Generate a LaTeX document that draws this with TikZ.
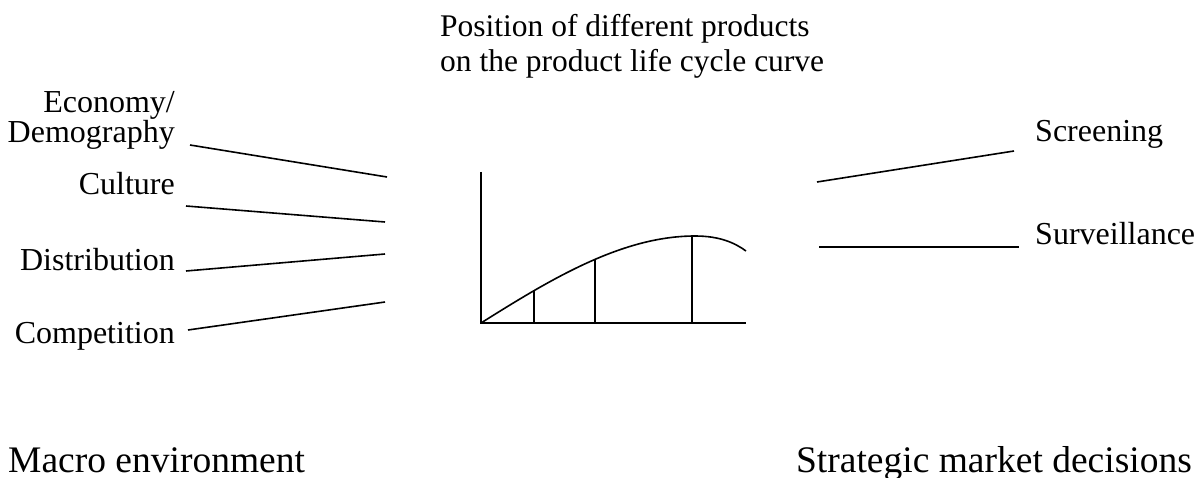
\documentclass[tikz,border=0pt]{standalone}
\usepackage{fontspec}
\setmainfont{Liberation Serif}
\usetikzlibrary{positioning}

\begin{document}
\begin{tikzpicture}[
  x=1pt, y=-1pt,
  lbl/.style={font=\fontsize{32}{30}\selectfont, inner sep=0pt},
  head/.style={font=\fontsize{37.5}{40}\selectfont, inner sep=0pt},
  link/.style={line width=1.6pt},
  axis/.style={line width=2.2pt},
]
  \useasboundingbox (0,0) rectangle (1204,478);

  % Title over the chart
  \node[lbl, anchor=base west, align=left,
        font=\fontsize{31.5}{35}\selectfont] (title) at (440,72)
        {Position of different products\\on the product life cycle curve};

  % Macro environment factors
  \node[lbl, anchor=base east, align=right] (eco) at (175,143) {Economy/\\Demography};
  \node[lbl, anchor=base east] (cul) at (175,195) {Culture};
  \node[lbl, anchor=base east] (dis) at (175,270) {Distribution};
  \node[lbl, anchor=base east] (com) at (175,343) {Competition};

  % Strategic decisions
  \node[lbl, anchor=base west] (scr) at (1035,142) {Screening};
  \node[lbl, anchor=base west] (sur) at (1035,245) {Surveillance};

  % Bottom headings
  \node[head, anchor=base west] (macro) at (8,472) {Macro environment};
  \node[head, anchor=base east] (strat) at (1192,472) {Strategic market decisions};

  % Line ends next to the chart
  \coordinate (e0) at (190,145);  \coordinate (e1) at (387,177);
  \coordinate (c0) at (186,206);  \coordinate (c1) at (385,222);
  \coordinate (d0) at (186,271);  \coordinate (d1) at (385,254);
  \coordinate (k0) at (188,330);  \coordinate (k1) at (385,302);
  \coordinate (s0) at (817,182);  \coordinate (s1) at (1014,151);
  \coordinate (v0) at (819,247);  \coordinate (v1) at (1019,247);

  \draw[link] (e0) -- (e1);
  \draw[link] (c0) -- (c1);
  \draw[link] (d0) -- (d1);
  \draw[link] (k0) -- (k1);
  \draw[link] (s0) -- (s1);
  \draw[link] (v0) -- (v1);

  % Life cycle chart
  \coordinate (o) at (481,323);
  \draw[axis] (481,172) -- (o) -- (746,323);
  \draw[link] (o) .. controls (551,279) and (622,236) .. (695,236)
                  .. controls (720,236) and (735,243) .. (746,251);
  \draw[link] (534,290) -- (534,323);
  \draw[link] (595,259) -- (595,323);
  \draw[link] (692,237) -- (692,323);
\end{tikzpicture}
\end{document}
